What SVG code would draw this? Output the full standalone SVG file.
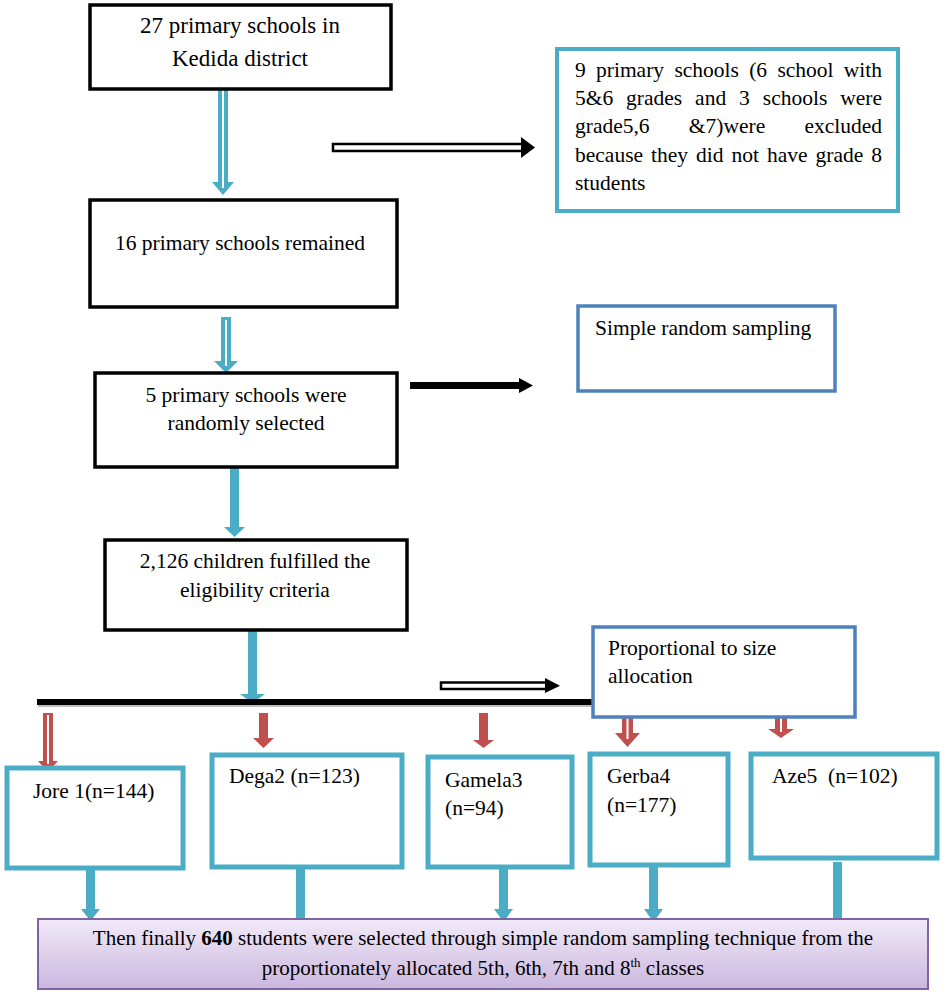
<svg xmlns="http://www.w3.org/2000/svg" width="948" height="994" viewBox="0 0 948 994">
<defs>
<linearGradient id="lav" x1="0" y1="0" x2="0" y2="1">
<stop offset="0" stop-color="#f1eaf8"/>
<stop offset="1" stop-color="#cbb7df"/>
</linearGradient>
<style>
text{font-family:'Liberation Serif','Times New Roman','DejaVu Serif',serif;font-size:21.5px;fill:#000}
.bk{fill:#fff;stroke:#000;stroke-width:3.5}
.bl{fill:#fff;stroke:#4f81bd;stroke-width:3.5}
.sc{fill:#fff;stroke:#4bacc6;stroke-width:5}
.ba{fill:#4bacc6}
.ra{fill:#c0504d}
.wl{stroke:#fff;stroke-width:2}
.m{text-anchor:middle}
</style>
</defs>
<rect width="948" height="994" fill="#fff"/>

<g id="connectors">
<rect class="ba" x="218" y="89" width="10" height="95"/>
<polygon class="ba" points="212,182 234,182 223,195"/>
<line class="wl" x1="223" y1="90" x2="223" y2="188"/>
<rect class="ba" x="221" y="317" width="10" height="46"/>
<polygon class="ba" points="214,361 238,361 226,373"/>
<line class="wl" x1="226" y1="320" x2="226" y2="366"/>
<rect class="ba" x="230" y="467" width="9" height="62"/>
<polygon class="ba" points="224,527 245,527 234.5,537"/>
<rect class="ba" x="248" y="630" width="9" height="66"/>
<polygon class="ba" points="240,694 265,694 252.5,703"/>
<rect x="38" y="704" width="555" height="3" fill="#bdbdbd"/>
<rect x="37" y="699" width="556" height="6" fill="#000"/>
<rect x="333" y="144" width="190" height="7" fill="#fff" stroke="#000" stroke-width="2.5"/>
<polygon points="521,137 535,147.5 521,158" fill="#000"/>
<rect x="410" y="382" width="112" height="7" fill="#000"/>
<polygon points="519,378 533,385.5 519,393" fill="#000"/>
<rect x="441" y="682.5" width="106" height="6.5" fill="#fff" stroke="#000" stroke-width="2.5"/>
<polygon points="545,678 560,685.8 545,693" fill="#000"/>
<rect class="ra" x="43" y="713" width="10" height="50"/>
<polygon class="ra" points="38,761 58,761 48,772"/>
<line class="wl" x1="48" y1="715" x2="48" y2="764" stroke-width="1.8"/>
<rect class="ra" x="259" y="713" width="9" height="27"/>
<polygon class="ra" points="253,738 274,738 263.5,748"/>
<rect class="ra" x="479" y="713" width="9" height="29"/>
<polygon class="ra" points="473,740 494,740 483.5,748"/>
<rect class="ra" x="622" y="718" width="11" height="17"/>
<polygon class="ra" points="615,733 640,733 627.5,747"/>
<line class="wl" x1="627.5" y1="718" x2="627.5" y2="739" stroke-width="2.5"/>
<rect class="ra" x="775" y="718" width="12" height="13"/>
<polygon class="ra" points="768,729 794,729 781,738"/>
<line class="wl" x1="781" y1="718" x2="781" y2="732" stroke-width="2.5"/>
<rect class="ba" x="86" y="868" width="9" height="43"/>
<polygon class="ba" points="81,909 100,909 90.5,921"/>
<rect class="ba" x="296" y="867" width="9" height="57"/>
<polygon class="ba" points="291,922 310,922 300.5,935"/>
<rect class="ba" x="499" y="867" width="9" height="44"/>
<polygon class="ba" points="494,909 513,909 503.5,922"/>
<rect class="ba" x="649" y="865" width="9" height="46"/>
<polygon class="ba" points="644,909 663,909 653.5,922"/>
<rect class="ba" x="833" y="862" width="9" height="58"/>
<polygon class="ba" points="828,918 847,918 837.5,932"/>
</g>

<g id="n1"><rect class="bk" x="90" y="5" width="301" height="84"/>
<text class="m" x="240" y="33" style="font-size:23px">27 primary schools in</text>
<text class="m" x="240" y="66" style="font-size:23px">Kedida district</text></g>

<g id="n2"><rect class="sc" x="557" y="49" width="341" height="162" style="stroke-width:4"/>
<text y="77"><tspan x="575">9</tspan><tspan x="596">primary</tspan><tspan x="674.4">schools</tspan><tspan x="749.2">(6</tspan><tspan x="777.4">school</tspan><tspan x="843.8">with</tspan></text>
<text y="105"><tspan x="575">5&amp;6</tspan><tspan x="626.1">grades</tspan><tspan x="695.1">and</tspan><tspan x="739.1">3</tspan><tspan x="762.8">schools</tspan><tspan x="840.2">were</tspan></text>
<text y="133"><tspan x="575">grade5,6</tspan><tspan x="688.8">&amp;7)were</tspan><tspan x="804.4">excluded</tspan></text>
<text y="162"><tspan x="575">because</tspan><tspan x="651">they</tspan><tspan x="696">did</tspan><tspan x="731.5">not</tspan><tspan x="767">have</tspan><tspan x="815.6">grade</tspan><tspan x="871.3">8</tspan></text>
<text x="575" y="190">students</text></g>

<g id="n3"><rect class="bk" x="90" y="200" width="307" height="107"/>
<text class="m" x="240" y="250">16 primary schools remained</text></g>

<g id="n4"><rect class="bl" x="578" y="306" width="257" height="85"/>
<text x="595" y="335">Simple random sampling</text></g>

<g id="n5"><rect class="bk" x="95" y="373" width="302" height="94"/>
<text class="m" x="246" y="402">5 primary schools were</text>
<text class="m" x="246" y="430">randomly selected</text></g>

<g id="n6"><rect class="bk" x="105" y="540" width="302" height="90"/>
<text class="m" x="255" y="568">2,126 children fulfilled the</text>
<text class="m" x="255" y="597">eligibility criteria</text></g>

<g id="n7"><rect class="bl" x="593" y="627" width="262" height="90"/>
<text x="608" y="655">Proportional to size</text>
<text x="608" y="683">allocation</text></g>

<g id="n8"><rect class="sc" x="7" y="768" width="176" height="100"/>
<text x="33" y="798">Jore 1(n=144)</text></g>
<g id="n9"><rect class="sc" x="212" y="755" width="190" height="112"/>
<text x="229" y="783">Dega2 (n=123)</text></g>
<g id="n10"><rect class="sc" x="428" y="757" width="144" height="110"/>
<text x="445" y="787">Gamela3</text><text x="445" y="815">(n=94)</text></g>
<g id="n11"><rect class="sc" x="590" y="754" width="138" height="111"/>
<text x="607" y="783">Gerba4</text><text x="607" y="812">(n=177)</text></g>
<g id="n12"><rect class="sc" x="751" y="754" width="186" height="104"/>
<text x="772" y="783" xml:space="preserve">Aze5  (n=102)</text></g>

<g id="n13"><rect x="38" y="919" width="890" height="70" fill="url(#lav)" stroke="#8064a2" stroke-width="2"/>
<text class="m" x="483" y="945" style="font-size:21px">Then finally <tspan font-weight="bold">640</tspan> students were selected through simple random sampling technique from the</text>
<text class="m" x="483" y="975" style="font-size:21px">proportionately allocated 5th, 6th, 7th and 8<tspan dy="-8" style="font-size:13px">th</tspan><tspan dy="8"> classes</tspan></text></g>
</svg>
